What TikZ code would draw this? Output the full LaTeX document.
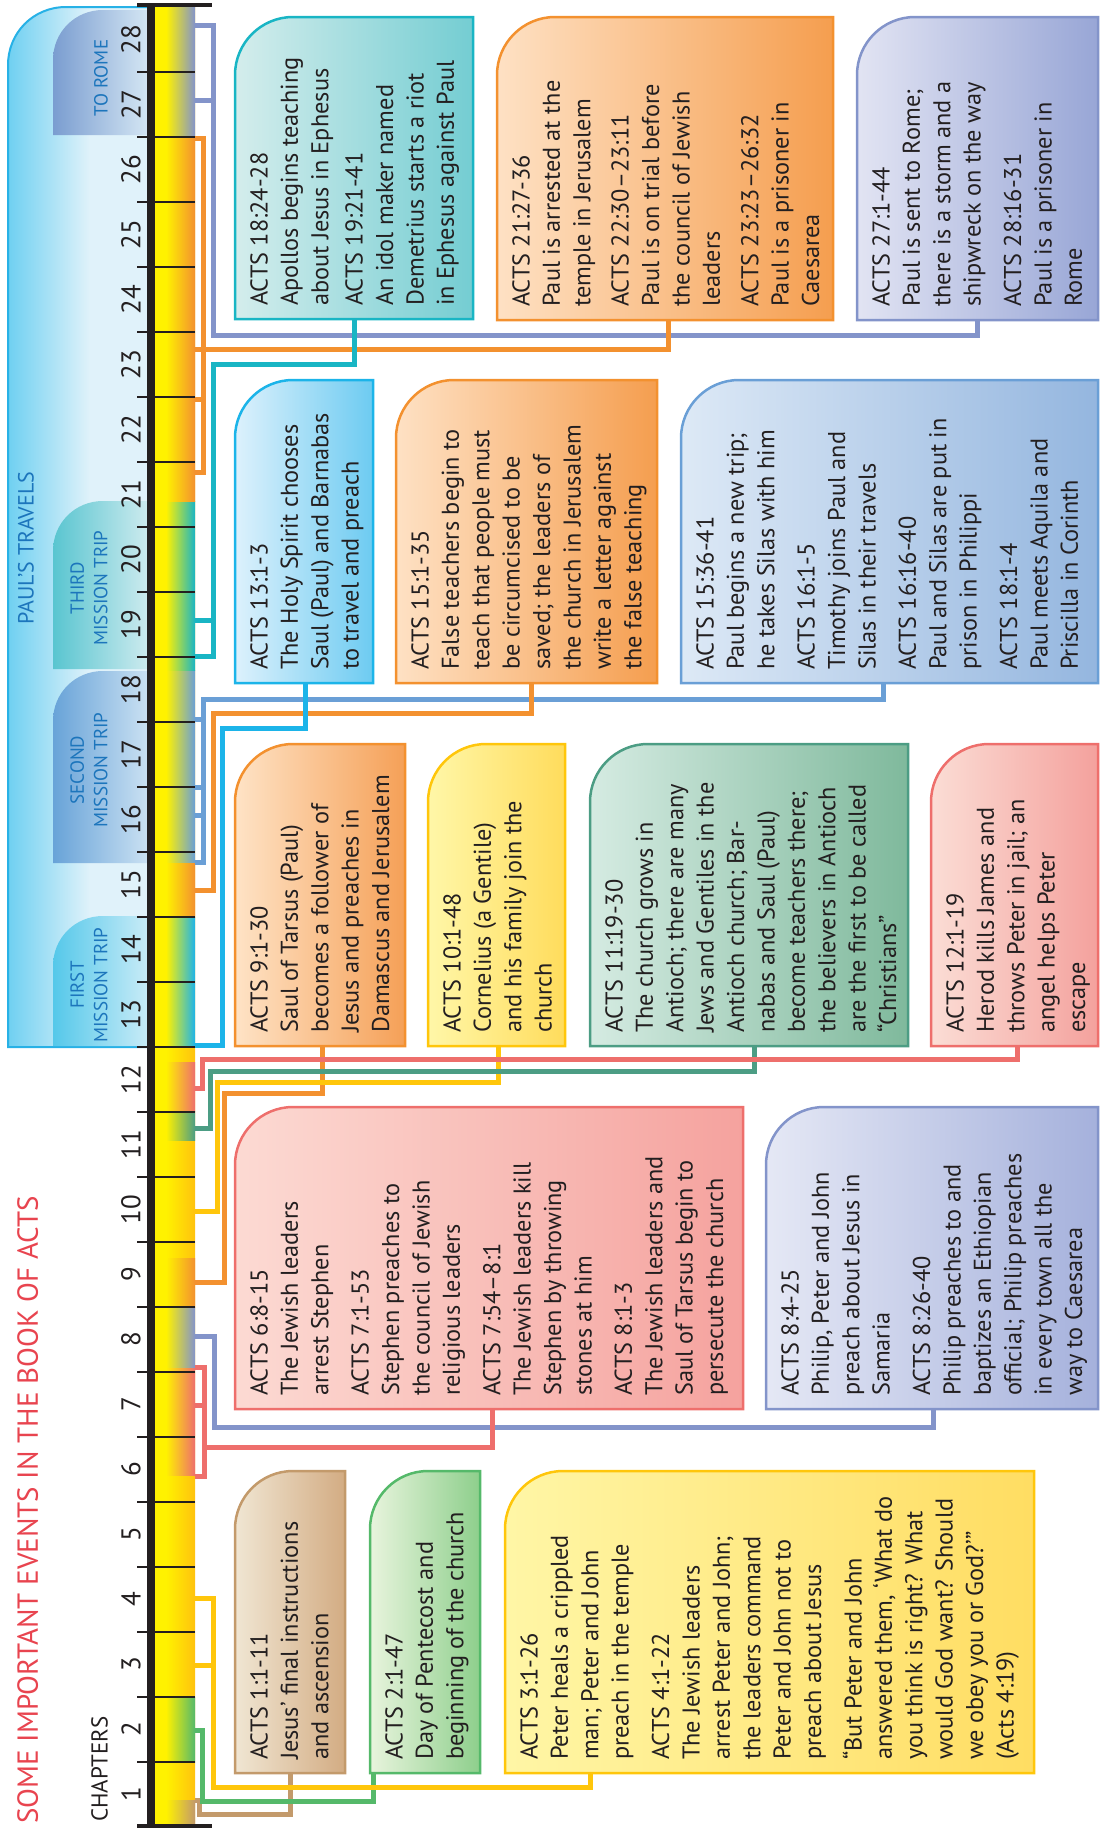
\documentclass[tikz,border=0pt]{standalone}
\usepackage{fontspec}
\setmainfont{PT Sans}
\usetikzlibrary{calc}
\definecolor{textdark}{HTML}{231F20}
\definecolor{ryellow}{HTML}{FFF200}
\definecolor{rgold}{HTML}{FFC20E}
\definecolor{cBrown}{HTML}{C39A6B}
\definecolor{cGreen}{HTML}{55B96A}
\definecolor{cYellow}{HTML}{FFC60B}
\definecolor{cPink}{HTML}{EE6F6C}
\definecolor{cLav}{HTML}{8394CA}
\definecolor{cOrange}{HTML}{F3912F}
\definecolor{cTeal}{HTML}{4C9D84}
\definecolor{cCyan}{HTML}{1CB4E9}
\definecolor{cBlue}{HTML}{6A9FD6}
\definecolor{cAqua}{HTML}{19B5C4}
\definecolor{titlered}{HTML}{E8444F}
\definecolor{tabblue}{HTML}{1C75BC}
\definecolor{travborder}{HTML}{27B1E6}
\definecolor{travcyan}{HTML}{6FD0F1}
\definecolor{travlight}{HTML}{E0F2FA}
% box fills
\definecolor{f1a}{HTML}{F0E6D3}\definecolor{f1b}{HTML}{D3AC83}
\definecolor{f2a}{HTML}{E8F4DD}\definecolor{f2b}{HTML}{8ECF8C}
\definecolor{f3a}{HTML}{FFF6A6}\definecolor{f3b}{HTML}{FFDD62}
\definecolor{f4a}{HTML}{FCDAD3}\definecolor{f4b}{HTML}{F5A29E}
\definecolor{f5a}{HTML}{E5E8F5}\definecolor{f5b}{HTML}{A5B1DC}
\definecolor{f6a}{HTML}{FEE3C6}\definecolor{f6b}{HTML}{F5A057}
\definecolor{f7a}{HTML}{FFF7A8}\definecolor{f7b}{HTML}{FFDC5C}
\definecolor{f8a}{HTML}{D5EBE2}\definecolor{f8b}{HTML}{7FB99C}
\definecolor{f9a}{HTML}{FBDDD5}\definecolor{f9b}{HTML}{F4A19D}
\definecolor{f10a}{HTML}{DDF1FC}\definecolor{f10b}{HTML}{6DCBF1}
\definecolor{f11a}{HTML}{FEE1C4}\definecolor{f11b}{HTML}{F59E4F}
\definecolor{f12a}{HTML}{DDE9F6}\definecolor{f12b}{HTML}{94B6DF}
\definecolor{f13a}{HTML}{D4EDEC}\definecolor{f13b}{HTML}{74CDD2}
\definecolor{f15a}{HTML}{E2E4F3}\definecolor{f15b}{HTML}{98A6D6}
% tabs
\definecolor{romeA}{HTML}{7A9DD0}\definecolor{romeB}{HTML}{D3E5F3}
\definecolor{thirdA}{HTML}{59C5D0}\definecolor{thirdB}{HTML}{CBEAEE}
\definecolor{secondA}{HTML}{68A3D8}\definecolor{secondB}{HTML}{C9E0F2}
\definecolor{firstA}{HTML}{55C8EA}\definecolor{firstB}{HTML}{C7EBF7}

\newcommand{\evbox}[7]{%
  \shadedraw[left color=#5, right color=#6, draw=#7, line width=2.5pt]
    (#1,#4) -- (#1,#2+58) .. controls (#1,#2+26) and (#1+26,#2) .. (#1+58,#2) -- (#3,#2) -- (#3,#4) -- cycle;}
\newcommand{\tabshape}[5]{%
  \shade[left color=#4, right color=#5]
    (147,#3) -- (53,#3) -- (53,#2+50) .. controls (53,#2+22) and (75,#2) .. (103,#2) -- (147,#2) -- cycle;
  \coordinate (#1) at (100,{(#2+#3)/2});}

\begin{document}
\begin{tikzpicture}[x=1pt,y=-1pt,
  conn/.style={line width=5pt},
  boxtext/.style={rotate=90, anchor=north west, align=left, inner sep=0pt,
    font=\fontsize{24.3}{30.4}\selectfont, text=textdark},
  chapnum/.style={rotate=90, inner sep=0pt, font=\fontsize{27}{30}\selectfont, text=textdark},
  tabtext/.style={rotate=90, align=center, inner sep=0pt, font=\fontsize{19}{23.5}\selectfont, text=tabblue}]
\useasboundingbox (0,0) rectangle (1102,1829);

% ---------- Paul's travels region ----------
\begin{scope}
  \clip (8,1047) -- (8,65) .. controls (8,33) and (33,7) .. (66,7) -- (150,7) -- (150,1047) -- cycle;
  \fill[travlight] (0,0) rectangle (150,1050);
  \shade[left color=travcyan, right color=travlight] (8,0) rectangle (90,1050);
\end{scope}
\draw[travborder, line width=2pt] (150,1047) -- (8,1047) -- (8,65) .. controls (8,33) and (33,7) .. (66,7) -- (150,7);

\tabshape{tRome}{10}{135}{romeA}{romeB}
\tabshape{tThird}{501}{669}{thirdA}{thirdB}
\tabshape{tSecond}{671}{863}{secondA}{secondB}
\tabshape{tFirst}{916}{1046}{firstA}{firstB}

\node[tabtext] (lrome) at (101,78) {TO ROME};
\node[tabtext] (lthird) at (89,588) {THIRD\\MISSION TRIP};
\node[tabtext] (lsecond) at (89,770) {SECOND\\MISSION TRIP};
\node[tabtext] (lfirst) at (89,985) {FIRST\\MISSION TRIP};
\node[rotate=90, inner sep=0pt, font=\fontsize{22}{24}\selectfont, text=tabblue] (ptrav) at (26,548) {PAUL’S TRAVELS};

% ---------- titles ----------
\node[rotate=90, anchor=south west, inner sep=0pt, font=\fontsize{29}{32}\selectfont, text=titlered] (title) at (38.5,1824) {SOME IMPORTANT EVENTS IN THE BOOK OF ACTS};
\node[rotate=90, anchor=south west, inner sep=0pt, font=\fontsize{23}{26}\selectfont, text=textdark] (chap) at (108,1822) {CHAPTERS};

% ---------- ruler ----------
\fill[ryellow] (155,7) rectangle (195,1827);
\shade[left color=ryellow, right color=rgold] (166,7) rectangle (195,1827);
\foreach \a/\b/\c in {1800/1827/cBrown, 1697.7/1762.7/cGreen, 1367/1475/cPink, 1307/1367/cLav,
  1258/1307/cOrange, 1111.7/1140/cTeal, 1062/1111.7/cPink, 917/1047/cCyan, 862/917/cOrange,
  670/862/cBlue, 501/670/cAqua, 137/501/cOrange, 7/137/cLav}
  \shade[left color=ryellow, right color=\c] (166,\a) rectangle (195,\b);
\fill[textdark] (147,3) rectangle (155,1828);
\foreach \n in {1,...,27}
  \draw[textdark, line width=2.5pt] (137,{1827-65*\n}) -- (195,{1827-65*\n});
\draw[textdark, line width=4pt] (137,5) -- (212,5);
\draw[textdark, line width=4pt] (137,1826) -- (212,1826);
\foreach \n in {1,...,28}
  \node[chapnum] (ch\n) at (131,{1827-65*\n+32.5}) {\n};

% ---------- connector anchors ----------
\coordinate (b1) at (290,1773);
\coordinate (b2) at (373,1773);
\coordinate (b3) at (590,1773);
\coordinate (b4) at (492,1409);
\coordinate (b5) at (933,1409);
\coordinate (b6) at (322,1046);
\coordinate (b7) at (498,1046);
\coordinate (b8) at (754,1046);
\coordinate (b9) at (1017,1046);
\coordinate (b10) at (305,683);
\coordinate (b11) at (531,683);
\coordinate (b12) at (883,683);
\coordinate (b13) at (354,319);
\coordinate (b14) at (668,320);
\coordinate (b15) at (977,320);

% ---------- connectors ----------
\draw[conn,cBrown] (b1) -- (290,1814) -- (199,1814) -- (199,1800) -- (195,1800);
\draw[conn,cGreen] (b2) -- (373,1801) -- (202,1801) -- (202,1730) -- (195,1730);
\draw[conn,cYellow] (b3) -- (590,1787) -- (213,1787) -- (213,1598) -- (195,1598);
\draw[conn,cYellow] (213,1665) -- (195,1665);
\draw[conn,cLav] (b5) -- (933,1427) -- (214,1427) -- (214,1336) -- (195,1336);
\draw[conn,cPink] (b4) -- (492,1447) -- (204,1447);
\draw[conn,cPink] (195,1367) -- (204,1367) -- (204,1476) -- (195,1476);
\draw[conn,cPink] (204,1405) -- (195,1405);
\draw[conn,cOrange] (b6) -- (322,1093) -- (224,1093) -- (224,1282) -- (195,1282);
\draw[conn,cYellow] (b7) -- (498,1082) -- (217,1082) -- (217,1211) -- (195,1211);
\draw[conn,cTeal] (b8) -- (754,1071) -- (210,1071) -- (210,1128) -- (195,1128);
\draw[conn,cPink] (b9) -- (1017,1059) -- (202,1059) -- (202,1088) -- (195,1088);
\draw[conn,cBlue] (b12) -- (883,699) -- (203,699) -- (203,862) -- (195,862);
\foreach \yy in {719,787,815} \draw[conn,cBlue] (203,\yy) -- (195,\yy);
\draw[conn,cOrange] (b11) -- (531,713) -- (213,713) -- (213,890) -- (195,890);
\draw[conn,cCyan] (b10) -- (305,728) -- (222,728) -- (222,1045) -- (195,1045);
\draw[conn,cLav] (b15) -- (977,335) -- (213,335) -- (213,25) -- (195,25);
\draw[conn,cLav] (213,100) -- (195,100);
\draw[conn,cOrange] (b14) -- (668,349) -- (195,349);
\draw[conn,cOrange] (195,138) -- (203,138) -- (203,472) -- (195,472);
\draw[conn,cOrange] (203,399) -- (195,399);
\draw[conn,cAqua] (b13) -- (354,364) -- (213,364) -- (213,656) -- (195,656);
\draw[conn,cAqua] (213,620) -- (195,620);

% ---------- boxes ----------
\evbox{235}{1471}{345}{1773}{f1a}{f1b}{cBrown}
\evbox{370}{1471}{480}{1773}{f2a}{f2b}{cGreen}
\evbox{505}{1471}{1034}{1773}{f3a}{f3b}{cYellow}
\evbox{235}{1107}{743}{1409}{f4a}{f4b}{cPink}
\evbox{766}{1107}{1098}{1409}{f5a}{f5b}{cLav}
\evbox{235}{744}{405}{1046}{f6a}{f6b}{cOrange}
\evbox{428}{744}{565}{1046}{f7a}{f7b}{cYellow}
\evbox{590}{744}{908}{1046}{f8a}{f8b}{cTeal}
\evbox{931}{744}{1098}{1046}{f9a}{f9b}{cPink}
\evbox{235}{380}{373}{683}{f10a}{f10b}{cCyan}
\evbox{396}{380}{657}{683}{f11a}{f11b}{cOrange}
\evbox{681}{380}{1098}{683}{f12a}{f12b}{cBlue}
\evbox{235}{17}{473}{319}{f13a}{f13b}{cAqua}
\evbox{497}{17}{833}{320}{f11a}{f11b}{cOrange}
\evbox{857}{17}{1098}{320}{f15a}{f15b}{cLav}

% ---------- box texts ----------
\node[boxtext] (t1) at (250,1760) {ACTS 1:1-11\\Jesus’ final instructions\\and ascension};
\node[boxtext] (t2) at (385,1760) {ACTS 2:1-47\\Day of Pentecost and\\beginning of the church};
\node[boxtext] (t3) at (520,1760) {ACTS 3:1-26\\Peter heals a crippled\\man; Peter and John\\preach in the temple\\[10pt]ACTS 4:1-22\\The Jewish leaders\\arrest Peter and John;\\the leaders command\\Peter and John not to\\preach about Jesus\\[10pt]“But Peter and John\\answered them, ‘What do\\you think is right? What\\would God want? Should\\we obey you or God?’”\\(Acts 4:19)};
\node[boxtext] (t4) at (250,1396) {ACTS 6:8-15\\The Jewish leaders\\arrest Stephen\\[10pt]ACTS 7:1-53\\Stephen preaches to\\the council of Jewish\\religious leaders\\[10pt]ACTS 7:54–8:1\\The Jewish leaders kill\\Stephen by throwing\\stones at him\\[10pt]ACTS 8:1-3\\The Jewish leaders and\\Saul of Tarsus begin to\\persecute the church};
\node[boxtext] (t5) at (781,1396) {ACTS 8:4-25\\Philip, Peter and John\\preach about Jesus in\\Samaria\\[10pt]ACTS 8:26-40\\Philip preaches to and\\baptizes an Ethiopian\\official; Philip preaches\\in every town all the\\way to Caesarea};
\node[boxtext] (t6) at (250,1033) {ACTS 9:1-30\\Saul of Tarsus (Paul)\\becomes a follower of\\Jesus and preaches in\\Damascus and Jerusalem};
\node[boxtext] (t7) at (443,1033) {ACTS 10:1-48\\Cornelius (a Gentile)\\and his family join the\\church};
\node[boxtext] (t8) at (605,1033) {ACTS 11:19-30\\The church grows in\\Antioch; there are many\\Jews and Gentiles in the\\Antioch church; Bar-\\nabas and Saul (Paul)\\become teachers there;\\the believers in Antioch\\are the first to be called\\“Christians”};
\node[boxtext] (t9) at (946,1033) {ACTS 12:1-19\\Herod kills James and\\throws Peter in jail; an\\angel helps Peter\\escape};
\node[boxtext] (t10) at (250,670) {ACTS 13:1-3\\The Holy Spirit chooses\\Saul (Paul) and Barnabas\\to travel and preach};
\node[boxtext] (t11) at (411,670) {ACTS 15:1-35\\False teachers begin to\\teach that people must\\be circumcised to be\\saved; the leaders of\\the church in Jerusalem\\write a letter against\\the false teaching};
\node[boxtext] (t12) at (696,670) {ACTS 15:36-41\\Paul begins a new trip;\\he takes Silas with him\\[10pt]ACTS 16:1-5\\Timothy joins Paul and\\Silas in their travels\\[10pt]ACTS 16:16-40\\Paul and Silas are put in\\prison in Philippi\\[10pt]ACTS 18:1-4\\Paul meets Aquila and\\Priscilla in Corinth};
\node[boxtext] (t13) at (250,306) {ACTS 18:24-28\\Apollos begins teaching\\about Jesus in Ephesus\\[4pt]ACTS 19:21-41\\An idol maker named\\Demetrius starts a riot\\in Ephesus against Paul};
\node[boxtext] (t14) at (512,307) {ACTS 21:27-36\\Paul is arrested at the\\temple in Jerusalem\\[8pt]ACTS 22:30–23:11\\Paul is on trial before\\the council of Jewish\\leaders\\[8pt]ACTS 23:23–26:32\\Paul is a prisoner in\\Caesarea};
\node[boxtext] (t15) at (872,307) {ACTS 27:1-44\\Paul is sent to Rome;\\there is a storm and a\\shipwreck on the way\\[10pt]ACTS 28:16-31\\Paul is a prisoner in\\Rome};
\end{tikzpicture}
\end{document}
